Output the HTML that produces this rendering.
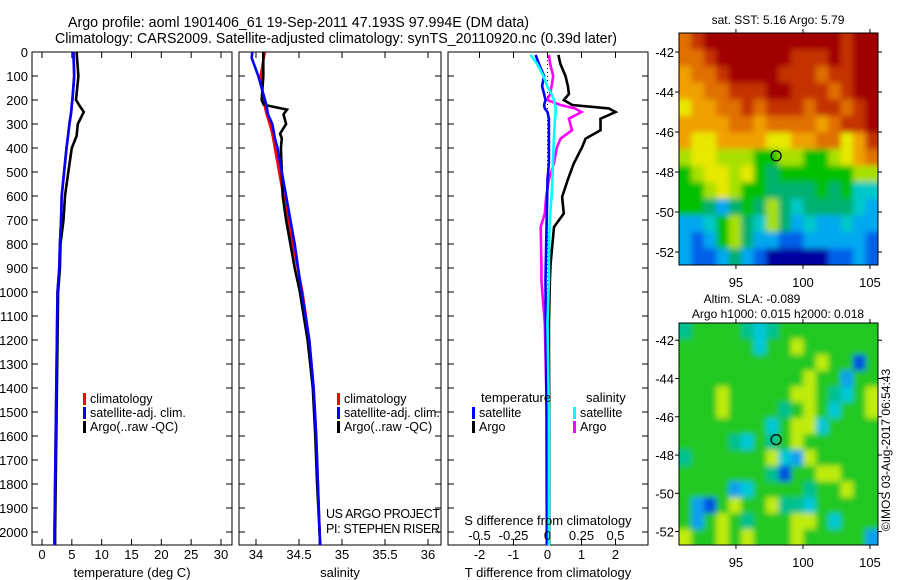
<!DOCTYPE html>
<html><head><meta charset="utf-8"><style>
body{margin:0;background:#fff;width:900px;height:580px;overflow:hidden}
svg{display:block;font-family:"Liberation Sans",sans-serif}
</style></head><body>
<svg id="fig" width="900" height="580" viewBox="0 0 900 580">
<defs>
<filter id="blur" x="-5%" y="-5%" width="110%" height="110%"><feGaussianBlur stdDeviation="3"/></filter>
<clipPath id="clipTop"><rect x="679" y="33" width="199" height="232"/></clipPath>
<clipPath id="clipBot"><rect x="679" y="323" width="199" height="222"/></clipPath>
</defs>
<text x="68" y="27" font-size="14.5" textLength="461" lengthAdjust="spacingAndGlyphs">Argo profile: aoml 1901406_61 19-Sep-2011 47.193S 97.994E (DM data)</text>
<text x="55" y="43" font-size="14.5" textLength="562" lengthAdjust="spacingAndGlyphs">Climatology: CARS2009. Satellite-adjusted climatology: synTS_20110920.nc (0.39d later)</text>
<g id="g"></g>
</svg>
<script>
// ---- data ----
const tDepth=[0,100,200,220,250,300,350,400,500,600,700,800,900,1000,1200,1400,1600,1800,2000,2055];
const tempArgo=[5.8,6.1,5.7,6.2,7.0,6.0,5.8,5.0,4.4,3.85,3.6,3.1,3.0,2.7,2.6,2.5,2.4,2.3,2.2,2.2];
const tempClim=[5.3,5.4,5.1,5.0,4.9,4.6,4.35,4.1,3.7,3.3,3.2,3.0,2.9,2.6,2.5,2.4,2.3,2.2,2.1,2.1];
const tempSat=[5.25,5.4,5.1,5.0,4.9,4.6,4.35,4.1,3.7,3.3,3.2,3.0,2.9,2.6,2.5,2.4,2.3,2.2,2.1,2.1];
const sDepth=[0,25,100,200,220,240,260,300,340,360,400,500,600,700,800,900,1000,1200,1400,1600,1800,2000,2055];
const salArgo=[34.085,34.085,34.085,34.066,34.09,34.36,34.32,34.35,34.28,34.3,34.29,34.3,34.31,34.35,34.40,34.45,34.51,34.60,34.66,34.69,34.71,34.74,34.745];
const salClim=[34.105,34.09,34.055,34.085,34.1,34.11,34.124,34.16,34.19,34.2,34.22,34.27,34.32,34.375,34.43,34.485,34.54,34.62,34.67,34.70,34.72,34.74,34.745];
const salSat=[33.957,33.95,34.027,34.105,34.12,34.13,34.14,34.19,34.21,34.22,34.25,34.30,34.35,34.40,34.45,34.49,34.53,34.62,34.67,34.70,34.72,34.74,34.745];
const dDepth=[12,50,100,142,175,200,221,235,250,278,326,361,396,465,531,604,673,729,882,951,1132,1500,2000,2055];
const dTArgo=[0.32,0.38,0.53,0.6,0.63,0.48,0.73,1.8,2.0,1.56,1.56,1.12,1.02,0.77,0.6,0.43,0.48,0.19,0.09,0.07,0.04,0.05,0.05,0.05];
const dTSat=[-0.35,-0.25,-0.1,-0.16,-0.1,-0.06,-0.1,-0.08,0.0,0.04,0.04,0.04,0.04,0.04,0.0,-0.01,-0.02,-0.03,-0.05,-0.06,-0.05,-0.03,-0.02,-0.02];
const dSArgo=[0.01,0.02,0.042,0.03,0.02,-0.002,0.096,0.2,0.25,0.157,0.18,0.096,0.07,0.047,0.01,-0.01,-0.02,-0.05,-0.045,-0.045,-0.02,-0.005,0.0,0.0];
const dSSat=[-0.125,-0.076,-0.03,-0.002,0.03,0.047,0.055,0.06,0.06,0.055,0.05,0.047,0.045,0.04,0.035,0.03,0.02,0.015,0.01,0.01,0.0,0.01,0.01,0.01];
const depthTicks=[0,100,200,300,400,500,600,700,800,900,1000,1100,1200,1300,1400,1500,1600,1700,1800,1900,2000];
const tempTicks=[0,5,10,15,20,25,30];
const salTicks=[34,34.5,35,35.5,36];
const salTickLabels=["34","34.5","35","35.5","36"];
const dTTicks=[-2,-1,0,1,2];
const dSTickLabels=["-0.5","-0.25","0","0.25","0.5"];
const latTicks=[-42,-44,-46,-48,-50,-52];
const lonTicks=[95,100,105];
const sstGrid=[
"cbaaaaaaaaaaabaa","ccbaaaaaabbbabaa","dccbaaaabbbcbbaa","ddccbbbaabbbcbaa",
"eddccbcbbbcbbcba","ddddccdccccdcbba","deeddddeeddccedb","feefffggffggfedc",
"gfeefeghggggggff","ggfefgghhhhghgii","gghjhghfhihhhhij","jjigfhifhjijjijj",
"jkjgfhjjkkjjjjjk","jkkjhjklllllkkjk"];
const slaGrid=[
"tggggtctgggggggg","ggggggcggygggggg","gggggggggggyggdg","ggggggggggyggbgg",
"gggygggggyygtcgy","gggyggggtgygcggy","gggggggcgyycgggg","ggggtcgtgygggggg",
"tggggggycbyggggg","gggggggtdggyyggg","ggggbcggggtggygg","gbdgyggyttcggggg",
"gbgygtgggyygcggg","yggygygggygggggb"];
// ---- helpers ----
const NS="http://www.w3.org/2000/svg";const G=document.getElementById('g');
function el(t,a,p){const e=document.createElementNS(NS,t);for(const k in a)e.setAttribute(k,a[k]);(p||G).appendChild(e);return e;}
const Y0=52,PY=0.24,BOT=545;
const yD=d=>Y0+d*PY;
function xLin(v0,p0,v1,p1){return v=>p0+(v-v0)*(p1-p0)/(v1-v0);}
const xT=xLin(0,42,30,221), xS=xLin(34,256,36,428), xDT=xLin(0,547.5,1,581.5), xDS=xLin(0,547.5,0.25,581.5);
function frame(x0,x1,name,labels){
  const f=el('rect',{x:x0,y:Y0,width:x1-x0,height:BOT-Y0,fill:'none',stroke:'#000','stroke-width':1});
  
  depthTicks.forEach(d=>{const y=yD(d);
    el('line',{x1:x0,x2:x0+6,y1:y,y2:y,stroke:'#000'});el('line',{x1:x1-6,x2:x1,y1:y,y2:y,stroke:'#000'});
    if(labels){const t=el('text',{x:x0-4,y:y+5,'font-size':13,'text-anchor':'end'});t.textContent=d;
      }});
}
function xticks(vals,sc,labs,name){vals.forEach((v,i)=>{const x=sc(v);
  el('line',{x1:x,x2:x,y1:BOT,y2:BOT-6,stroke:'#000'});el('line',{x1:x,x2:x,y1:Y0,y2:Y0+6,stroke:'#000'});
  const t=el('text',{x:x,y:559,'font-size':13,'text-anchor':'middle'});t.textContent=labs?labs[i]:v;
  });}
function line(xs,ds,sc,col,name){const pts=xs.map((v,i)=>sc(v).toFixed(1)+','+yD(ds[i]).toFixed(1)).join(' ');
  const p=el('polyline',{points:pts,fill:'none',stroke:col,'stroke-width':2.6});
  }
function txt(x,y,s,fs,name,anchor,p){const t=el('text',{x:x,y:y,'font-size':fs||13,'text-anchor':anchor||'start'},p);t.textContent=s;
  return t;}
function leg(x,y,col,s,name){el('rect',{x:x,y:y-10,width:3,height:12,fill:col});txt(x+7,y,s,12.5,name);}
// panel 1
frame(32,232,'temperature-panel',true);xticks(tempTicks,xT,null,'temp-tick-label');
txt(132,577,'temperature (deg C)',13,'temperature-axis-title','middle');
line(tempClim,tDepth,xT,'#f00','temp-climatology-line');line(tempArgo,tDepth,xT,'#000','temp-argo-line');line(tempSat,tDepth,xT,'#00f','temp-satellite-line');
leg(83,403,'#f00','climatology','legend-climatology');leg(83,417,'#00f','satellite-adj. clim.','legend-satellite');leg(83,431,'#000','Argo(..raw -QC)','legend-argo');
// panel 2
frame(239,441,'salinity-panel',false);xticks(salTicks,xS,salTickLabels,'sal-tick-label');
txt(340,577,'salinity',13,'salinity-axis-title','middle');
line(salClim,sDepth,xS,'#f00','sal-climatology-line');line(salArgo,sDepth,xS,'#000','sal-argo-line');line(salSat,sDepth,xS,'#00f','sal-satellite-line');
leg(337,403,'#f00','climatology','legend-climatology-2');leg(337,417,'#00f','satellite-adj. clim.','legend-satellite-2');leg(337,431,'#000','Argo(..raw -QC)','legend-argo-2');
const t1=txt(326,518,'US ARGO PROJECT',12.5,'project-label');t1.setAttribute('textLength','114');
const t2=txt(326,533,'PI: STEPHEN RISER',12.5,'pi-label');t2.setAttribute('textLength','114');
// panel 3
frame(448,648,'difference-panel',false);xticks(dTTicks,xDT,null,'tdiff-tick-label');
el('line',{x1:xDT(0),x2:xDT(0),y1:Y0,y2:BOT,stroke:'#000','stroke-dasharray':'1,3'});
line(dTArgo,dDepth,xDT,'#000','tdiff-argo-line');line(dSArgo,dDepth,xDS,'#f0f','sdiff-argo-line');
line(dTSat,dDepth,xDT,'#00f','tdiff-satellite-line');line(dSSat,dDepth,xDS,'#0ff','sdiff-satellite-line');
txt(548,577,'T difference from climatology',13,'tdiff-axis-title','middle');
txt(548,525,'S difference from climatology',13,'sdiff-axis-title','middle');
dSTickLabels.forEach((s,i)=>txt(xDT(dTTicks[i]),540,s,13,'sdiff-tick-label','middle'));
txt(481,402,'temperature',13,'legend-temperature-heading');txt(586,402,'salinity',13,'legend-salinity-heading');
leg(472,417,'#00f','satellite','legend-t-satellite');leg(472,431,'#000','Argo','legend-t-argo');
leg(573,417,'#0ff','satellite','legend-s-satellite');leg(573,431,'#f0f','Argo','legend-s-argo');
// maps
const sstCol={a:'#a00000',b:'#c43000',c:'#e07000',d:'#f0a000',e:'#e8e800',f:'#a8e000',g:'#00c000',h:'#00b070',i:'#00c8c8',j:'#00a8f0',k:'#0060e8',l:'#0000a0'};
const slaCol={g:'#20c820',y:'#c0ec10',t:'#00c090',c:'#00c8d8',b:'#10a0f0',d:'#0050e0'};
const MX0=679,MX1=878,LON0=90.75,LON1=105.6;
const xLon=xLin(LON0,MX0,LON1,MX1);
function map(grid,cols,y0,y1,lat0,lat1,name,clip){
  const yLat=xLin(lat0,y0,lat1,y1);const nr=grid.length,nc=grid[0].length;
  const cw=(MX1-MX0)/nc,ch=(y1-y0)/nr;
  const cg=el('g',{'clip-path':'url(#'+clip+')'});
  const bg=el('g',{filter:'url(#blur)'},cg);
  grid.forEach((row,r)=>{for(let c=0;c<nc;c++){
    let x=MX0+c*cw,y=y0+r*ch,w=cw+0.6,h=ch+0.6;
    if(c===0){x-=8;w+=8;} if(c===nc-1){w+=8;} if(r===0){y-=8;h+=8;} if(r===nr-1){h+=8;}
    const rc=el('rect',{x:x,y:y,width:w,height:h,fill:cols[row[c]]||cols.g},bg);
    }});
  const f=el('rect',{x:MX0,y:y0,width:MX1-MX0,height:y1-y0,fill:'none',stroke:'#000'});
  
  latTicks.forEach(l=>{const y=yLat(l);el('line',{x1:MX0-4,x2:MX0,y1:y,y2:y,stroke:'#000'});el('line',{x1:MX1,x2:MX1+4,y1:y,y2:y,stroke:'#000'});
    txt(MX0-5,y+5,l,13,'lat-tick-label','end');});
  lonTicks.forEach(l=>{const x=xLon(l);el('line',{x1:x,x2:x,y1:y1,y2:y1+4,stroke:'#000'});el('line',{x1:x,x2:x,y1:y0-4,y2:y0,stroke:'#000'});
    txt(x,y1+22,l,13,'lon-tick-label','middle');});
  const c=el('circle',{cx:xLon(97.994),cy:yLat(-47.193),r:5,fill:'none',stroke:'#000','stroke-width':1.2});
  
}
map(sstGrid,sstCol,33,265,-41.05,-52.65,'sst-map','clipTop');
txt(778,24,'sat. SST: 5.16 Argo: 5.79',12,'sst-map-title','middle');
map(slaGrid,slaCol,323,545,-41.1,-52.7,'sla-map','clipBot');
txt(752,303,'Altim. SLA: -0.089',12,'sla-map-title','middle');
txt(778,318,'Argo h1000: 0.015 h2000: 0.018',12,'sla-map-subtitle','middle');
const v=txt(0,0,'©IMOS 03-Aug-2017 06:54:43',12,'timestamp-label','middle');
v.setAttribute('transform','translate(890,450) rotate(-90)');
</script>
</body></html>
